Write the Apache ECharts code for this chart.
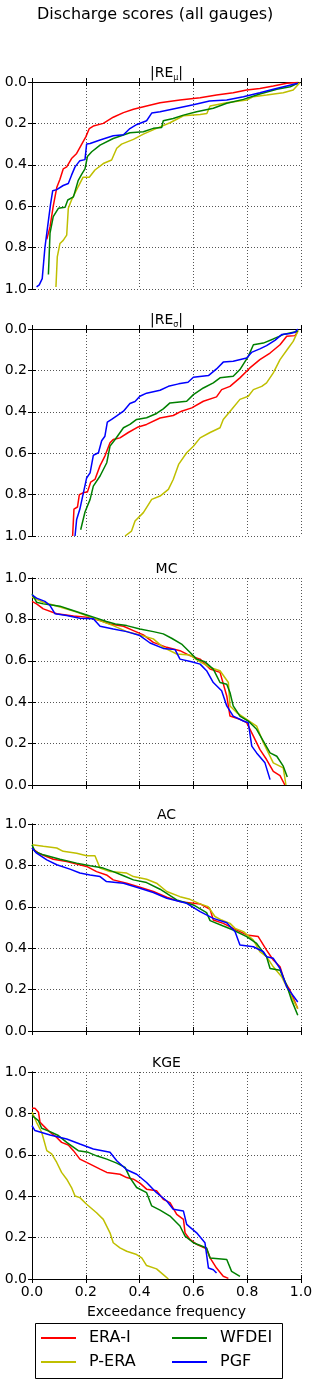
<!DOCTYPE html>
<html>
<head>
<meta charset="utf-8">
<script src="https://cdn.jsdelivr.net/npm/echarts@6/dist/echarts.min.js"></script>
<style>
html, body { margin: 0; padding: 0; background: #fff; }
#main { width: 320px; height: 1387px; }
</style>
</head>
<body>
<div id="main"></div>
<script>
// exceedance curves, [frequency, score]
var eraReMu = [[0.055,0.76],[0.067,0.70],[0.079,0.60],[0.092,0.51],[0.104,0.47],[0.116,0.42],[0.129,0.41],[0.147,0.37],[0.166,0.345],[0.185,0.30],[0.20,0.265],[0.213,0.225],[0.228,0.213],[0.265,0.20],[0.302,0.17],[0.34,0.148],[0.377,0.132],[0.426,0.116],[0.476,0.10],[0.55,0.087],[0.625,0.076],[0.686,0.063],[0.748,0.052],[0.798,0.039],[0.847,0.031],[0.897,0.019],[0.947,0.006],[0.99,0.002]];
var peraReMu = [[0.089,0.99],[0.094,0.845],[0.104,0.78],[0.116,0.765],[0.129,0.74],[0.135,0.61],[0.147,0.57],[0.172,0.505],[0.19,0.46],[0.213,0.46],[0.234,0.425],[0.265,0.394],[0.296,0.377],[0.315,0.32],[0.333,0.30],[0.377,0.277],[0.414,0.252],[0.463,0.224],[0.513,0.197],[0.563,0.163],[0.625,0.157],[0.65,0.152],[0.662,0.116],[0.724,0.10],[0.798,0.087],[0.823,0.071],[0.872,0.063],[0.934,0.052],[0.971,0.039],[0.988,0.015],[0.996,0.003]];
var wfdeiReMu = [[0.061,0.93],[0.067,0.73],[0.079,0.65],[0.098,0.61],[0.123,0.605],[0.133,0.57],[0.154,0.555],[0.172,0.475],[0.185,0.445],[0.197,0.42],[0.206,0.36],[0.222,0.337],[0.253,0.305],[0.302,0.273],[0.364,0.245],[0.414,0.24],[0.451,0.224],[0.482,0.22],[0.488,0.187],[0.525,0.176],[0.563,0.16],[0.612,0.144],[0.674,0.127],[0.724,0.103],[0.786,0.084],[0.847,0.058],[0.91,0.035],[0.96,0.023],[0.988,0.006]];
var pgfReMu = [[0.017,0.99],[0.027,0.98],[0.038,0.95],[0.048,0.80],[0.061,0.67],[0.069,0.59],[0.077,0.525],[0.092,0.52],[0.116,0.50],[0.135,0.49],[0.147,0.45],[0.16,0.41],[0.178,0.38],[0.197,0.375],[0.203,0.30],[0.216,0.297],[0.253,0.28],[0.302,0.26],[0.34,0.255],[0.364,0.225],[0.39,0.205],[0.426,0.187],[0.445,0.15],[0.476,0.144],[0.538,0.127],[0.60,0.11],[0.66,0.092],[0.724,0.087],[0.786,0.071],[0.847,0.052],[0.897,0.035],[0.947,0.019],[0.988,0.006]];

var eraReSig = [[0.151,1.0],[0.156,0.87],[0.169,0.86],[0.176,0.80],[0.193,0.79],[0.206,0.788],[0.218,0.74],[0.234,0.727],[0.253,0.66],[0.271,0.614],[0.29,0.55],[0.302,0.534],[0.327,0.526],[0.358,0.50],[0.395,0.473],[0.426,0.461],[0.476,0.43],[0.525,0.418],[0.556,0.397],[0.594,0.381],[0.637,0.349],[0.686,0.328],[0.705,0.293],[0.736,0.277],[0.773,0.236],[0.81,0.188],[0.847,0.148],[0.885,0.116],[0.922,0.076],[0.947,0.035],[0.978,0.032],[0.988,0.011]];
var peraReSig = [[0.346,1.0],[0.37,0.976],[0.383,0.928],[0.414,0.887],[0.445,0.823],[0.476,0.807],[0.507,0.775],[0.525,0.727],[0.545,0.654],[0.575,0.598],[0.60,0.566],[0.625,0.526],[0.662,0.50],[0.699,0.477],[0.711,0.437],[0.742,0.389],[0.773,0.34],[0.804,0.325],[0.823,0.293],[0.854,0.277],[0.872,0.26],[0.897,0.212],[0.922,0.148],[0.953,0.092],[0.971,0.06],[0.99,0.006]];
var wfdeiReSig = [[0.181,0.97],[0.197,0.884],[0.216,0.823],[0.228,0.759],[0.253,0.71],[0.278,0.646],[0.29,0.566],[0.309,0.534],[0.34,0.477],[0.364,0.461],[0.389,0.437],[0.426,0.429],[0.463,0.408],[0.488,0.386],[0.513,0.357],[0.575,0.349],[0.60,0.317],[0.637,0.285],[0.674,0.26],[0.699,0.236],[0.748,0.228],[0.773,0.196],[0.804,0.132],[0.823,0.076],[0.86,0.068],[0.897,0.048],[0.934,0.027],[0.988,0.011]];
var pgfReSig = [[0.16,1.0],[0.166,0.92],[0.178,0.87],[0.188,0.81],[0.203,0.72],[0.216,0.695],[0.228,0.61],[0.247,0.598],[0.259,0.54],[0.271,0.518],[0.28,0.45],[0.296,0.437],[0.315,0.42],[0.34,0.397],[0.364,0.36],[0.383,0.35],[0.401,0.325],[0.426,0.31],[0.476,0.296],[0.507,0.277],[0.545,0.265],[0.58,0.257],[0.60,0.233],[0.656,0.225],[0.686,0.193],[0.711,0.16],[0.748,0.156],[0.798,0.14],[0.816,0.113],[0.847,0.096],[0.872,0.08],[0.903,0.055],[0.928,0.027],[0.959,0.022],[0.978,0.016],[0.988,0.0]];

var eraMc = [[0.0,0.887],[0.017,0.875],[0.042,0.851],[0.092,0.827],[0.154,0.816],[0.203,0.811],[0.253,0.795],[0.29,0.778],[0.34,0.767],[0.377,0.746],[0.414,0.725],[0.451,0.689],[0.501,0.665],[0.55,0.649],[0.587,0.625],[0.625,0.608],[0.662,0.56],[0.699,0.544],[0.724,0.43],[0.736,0.333],[0.773,0.317],[0.798,0.301],[0.823,0.236],[0.847,0.172],[0.872,0.123],[0.897,0.066],[0.922,0.045],[0.94,0.0]];
var peraMc = [[0.0,0.908],[0.042,0.883],[0.104,0.86],[0.166,0.835],[0.24,0.80],[0.302,0.77],[0.352,0.741],[0.401,0.725],[0.451,0.706],[0.488,0.665],[0.538,0.633],[0.587,0.628],[0.625,0.595],[0.662,0.568],[0.699,0.552],[0.73,0.495],[0.736,0.382],[0.761,0.35],[0.798,0.317],[0.835,0.285],[0.86,0.204],[0.897,0.107],[0.934,0.083],[0.944,0.0]];
var wfdeiMc = [[0.0,0.924],[0.017,0.883],[0.042,0.875],[0.073,0.87],[0.104,0.864],[0.141,0.848],[0.178,0.832],[0.209,0.819],[0.24,0.806],[0.277,0.79],[0.31,0.778],[0.352,0.77],[0.401,0.754],[0.451,0.741],[0.488,0.73],[0.519,0.709],[0.556,0.681],[0.587,0.641],[0.612,0.608],[0.643,0.595],[0.674,0.56],[0.699,0.495],[0.724,0.487],[0.736,0.447],[0.748,0.382],[0.773,0.333],[0.804,0.309],[0.835,0.269],[0.86,0.212],[0.885,0.155],[0.91,0.139],[0.934,0.091],[0.949,0.039]];
var pgfMc = [[0.0,0.919],[0.017,0.903],[0.048,0.887],[0.067,0.867],[0.086,0.827],[0.129,0.819],[0.178,0.806],[0.228,0.803],[0.253,0.767],[0.302,0.754],[0.352,0.741],[0.401,0.722],[0.439,0.686],[0.488,0.66],[0.532,0.654],[0.55,0.608],[0.593,0.595],[0.625,0.584],[0.649,0.552],[0.674,0.495],[0.705,0.455],[0.724,0.382],[0.748,0.333],[0.786,0.309],[0.804,0.301],[0.817,0.188],[0.835,0.155],[0.866,0.107],[0.885,0.026]];

var eraAc = [[0.0,0.884],[0.024,0.859],[0.079,0.83],[0.129,0.819],[0.203,0.795],[0.24,0.77],[0.277,0.754],[0.302,0.73],[0.352,0.714],[0.401,0.695],[0.451,0.674],[0.501,0.646],[0.55,0.625],[0.625,0.614],[0.662,0.588],[0.674,0.536],[0.711,0.52],[0.748,0.496],[0.798,0.464],[0.841,0.456],[0.872,0.391],[0.897,0.343],[0.922,0.31],[0.94,0.237],[0.959,0.197],[0.988,0.108]];
var peraAc = [[0.0,0.90],[0.042,0.892],[0.092,0.884],[0.116,0.868],[0.166,0.859],[0.203,0.847],[0.234,0.847],[0.253,0.787],[0.29,0.77],[0.352,0.763],[0.377,0.746],[0.426,0.733],[0.463,0.714],[0.501,0.674],[0.55,0.649],[0.587,0.636],[0.625,0.614],[0.655,0.601],[0.68,0.553],[0.705,0.536],[0.736,0.52],[0.755,0.496],[0.786,0.48],[0.823,0.439],[0.847,0.383],[0.872,0.359],[0.897,0.31],[0.928,0.262],[0.947,0.213],[0.965,0.165],[0.988,0.108]];
var wfdeiAc = [[0.0,0.90],[0.011,0.868],[0.042,0.851],[0.104,0.83],[0.166,0.811],[0.216,0.798],[0.265,0.787],[0.302,0.77],[0.34,0.75],[0.377,0.73],[0.426,0.717],[0.476,0.685],[0.538,0.633],[0.60,0.609],[0.649,0.572],[0.662,0.533],[0.711,0.507],[0.748,0.488],[0.798,0.456],[0.835,0.423],[0.872,0.359],[0.885,0.302],[0.922,0.294],[0.947,0.221],[0.965,0.149],[0.988,0.076]];
var pgfAc = [[0.0,0.884],[0.017,0.859],[0.055,0.827],[0.092,0.803],[0.141,0.782],[0.178,0.763],[0.216,0.754],[0.253,0.746],[0.277,0.722],[0.34,0.714],[0.401,0.69],[0.451,0.669],[0.501,0.641],[0.575,0.617],[0.625,0.577],[0.674,0.544],[0.724,0.523],[0.755,0.48],[0.773,0.415],[0.823,0.407],[0.86,0.383],[0.872,0.359],[0.897,0.351],[0.922,0.302],[0.947,0.213],[0.988,0.14]];

var eraKge = [[0.0,0.825],[0.011,0.825],[0.024,0.806],[0.03,0.757],[0.042,0.741],[0.067,0.709],[0.092,0.684],[0.11,0.66],[0.135,0.647],[0.154,0.62],[0.178,0.579],[0.216,0.555],[0.253,0.531],[0.278,0.515],[0.327,0.506],[0.352,0.49],[0.377,0.482],[0.401,0.463],[0.426,0.434],[0.463,0.426],[0.488,0.385],[0.513,0.369],[0.538,0.312],[0.563,0.288],[0.569,0.223],[0.587,0.191],[0.612,0.167],[0.649,0.146],[0.662,0.102],[0.686,0.053],[0.711,0.013],[0.73,0.003]];
var peraKge = [[0.0,0.806],[0.017,0.757],[0.036,0.709],[0.055,0.62],[0.073,0.604],[0.092,0.563],[0.11,0.515],[0.129,0.482],[0.147,0.442],[0.16,0.401],[0.178,0.393],[0.203,0.361],[0.24,0.32],[0.265,0.288],[0.29,0.223],[0.302,0.175],[0.327,0.15],[0.352,0.134],[0.389,0.118],[0.408,0.102],[0.426,0.065],[0.463,0.049],[0.488,0.021],[0.507,0.0]];
var wfdeiKge = [[0.0,0.79],[0.024,0.765],[0.036,0.728],[0.067,0.712],[0.098,0.693],[0.129,0.66],[0.172,0.62],[0.209,0.612],[0.24,0.595],[0.278,0.579],[0.315,0.56],[0.346,0.539],[0.364,0.49],[0.389,0.442],[0.426,0.417],[0.445,0.353],[0.476,0.333],[0.513,0.304],[0.55,0.256],[0.569,0.207],[0.60,0.175],[0.649,0.15],[0.662,0.102],[0.724,0.094],[0.742,0.037],[0.773,0.013]];
var pgfKge = [[0.0,0.741],[0.011,0.717],[0.067,0.696],[0.129,0.676],[0.178,0.652],[0.228,0.628],[0.29,0.612],[0.315,0.571],[0.352,0.528],[0.389,0.506],[0.426,0.466],[0.463,0.417],[0.501,0.377],[0.525,0.337],[0.563,0.328],[0.575,0.264],[0.612,0.223],[0.643,0.175],[0.656,0.053],[0.674,0.045],[0.686,0.029]];

var seriesNames = ['ERA-I', 'P-ERA', 'WFDEI', 'PGF'];
var seriesColors = ['#ff0000', '#bfbf00', '#008000', '#0000ff'];
var panelTitles = ['|RE{s|\u03bc}|', '|RE{s|\u03c3}|', 'MC', 'AC', 'KGE'];
var panelData = [
    [eraReMu, peraReMu, wfdeiReMu, pgfReMu],
    [eraReSig, peraReSig, wfdeiReSig, pgfReSig],
    [eraMc, peraMc, wfdeiMc, pgfMc],
    [eraAc, peraAc, wfdeiAc, pgfAc],
    [eraKge, peraKge, wfdeiKge, pgfKge]
];
var panelTops = [82, 329, 578, 824, 1072];

var font = 'DejaVu Sans';
var grids = [], xAxes = [], yAxes = [], titles = [], series = [];

titles.push({
    text: 'Discharge scores (all gauges)',
    left: 37, top: 7, padding: 0,
    textStyle: {fontFamily: font, fontSize: 16, fontWeight: 'normal', color: '#000'}
});

function tickFmt(v) { return v.toFixed(1); }

for (var i = 0; i < 5; i++) {
    var last = (i == 4);
    grids.push({left: 32, top: panelTops[i], width: 269, height: 207});

    titles.push({
        text: panelTitles[i],
        left: 166.5, top: panelTops[i] - 18, padding: 0, textAlign: 'center',
        textStyle: {
            fontFamily: font, fontSize: 14, fontWeight: 'normal', color: '#000',
            lineHeight: 18, verticalAlign: 'top',
            rich: {s: {fontFamily: font, fontSize: 8, verticalAlign: 'bottom', lineHeight: 18, color: '#000'}}
        }
    });

    var line = {lineStyle: {color: '#000', width: 1}};
    var tick = {show: true, inside: true, length: 4, lineStyle: {color: '#000', width: 1}};
    var dots = {show: true, lineStyle: {color: '#555', width: 1, type: [1, 2]}};

    // bottom and top x axes
    xAxes.push({
        type: 'value', gridIndex: i, position: 'bottom', min: 0, max: 1, interval: 0.2,
        axisLine: line, axisTick: tick, splitLine: dots,
        axisLabel: {show: last, margin: 6, fontFamily: font, fontSize: 14, color: '#000', formatter: tickFmt},
        name: last ? 'Exceedance frequency' : '', nameLocation: 'middle', nameGap: 26,
        nameTextStyle: {fontFamily: font, fontSize: 14, color: '#000'}
    });
    xAxes.push({
        type: 'value', gridIndex: i, position: 'top', min: 0, max: 1, interval: 0.2,
        axisLine: line, axisTick: tick, splitLine: {show: false}, axisLabel: {show: false}
    });
    // left and right y axes, first two panels inverted
    yAxes.push({
        type: 'value', gridIndex: i, position: 'left', min: 0, max: 1, interval: 0.2, inverse: i < 2,
        axisLine: line, axisTick: tick, splitLine: dots,
        axisLabel: {margin: 5, fontFamily: font, fontSize: 14, color: '#000', formatter: tickFmt}
    });
    yAxes.push({
        type: 'value', gridIndex: i, position: 'right', min: 0, max: 1, interval: 0.2, inverse: i < 2,
        axisLine: line, axisTick: tick, splitLine: {show: false}, axisLabel: {show: false}
    });

    for (var k = 0; k < 4; k++) {
        series.push({
            name: seriesNames[k], type: 'line', xAxisIndex: i * 2, yAxisIndex: i * 2,
            data: panelData[i][k], symbol: 'none', showSymbol: false,
            color: seriesColors[k], lineStyle: {color: seriesColors[k], width: 1.5}, z: 2 + k
        });
    }
}

var legendText = {fontFamily: font, fontSize: 16, color: '#000', padding: [0, 0, 0, 8]};

var option = {
    animation: false,
    textStyle: {fontFamily: font},
    title: titles,
    grid: grids,
    xAxis: xAxes,
    yAxis: yAxes,
    legend: [
        {data: ['ERA-I', 'P-ERA'], orient: 'vertical', left: 41, top: 1330, padding: 0,
         icon: 'rect', itemWidth: 35, itemHeight: 2, itemGap: 8, textStyle: legendText},
        {data: ['WFDEI', 'PGF'], orient: 'vertical', left: 172, top: 1330, padding: 0,
         icon: 'rect', itemWidth: 35, itemHeight: 2, itemGap: 8, textStyle: legendText}
    ],
    graphic: [{
        type: 'rect', shape: {x: 35.5, y: 1323.5, width: 247, height: 55},
        style: {fill: 'none', stroke: '#000', lineWidth: 1}, silent: true
    }],
    series: series
};

var myChart = echarts.init(document.getElementById('main'));
myChart.setOption(option);
</script>
</body>
</html>
